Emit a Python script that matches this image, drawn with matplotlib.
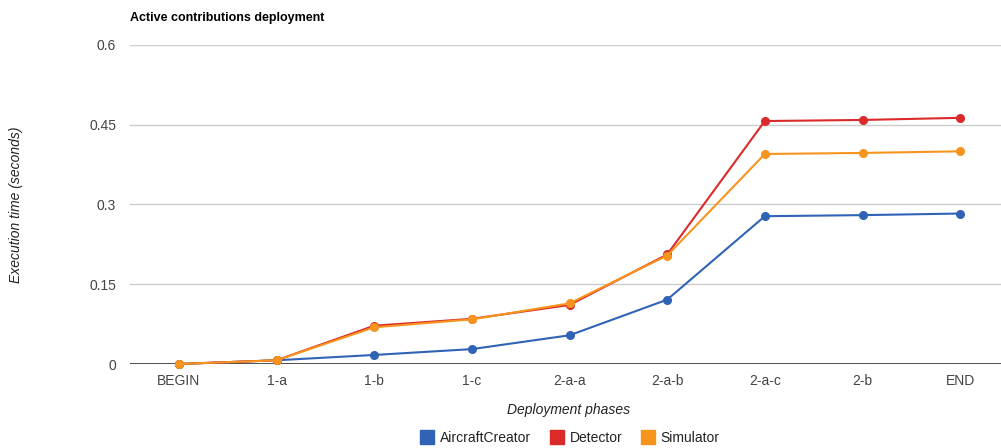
import matplotlib.pyplot as plt
from matplotlib.lines import Line2D
import numpy as np

plt.rcParams['font.family'] = ['Liberation Sans', 'DejaVu Sans']

# data
phases = ['BEGIN', '1-a', '1-b', '1-c', '2-a-a', '2-a-b', '2-a-c', '2-b', 'END']
aircraft = [0.0, 0.007, 0.017, 0.028, 0.054, 0.121, 0.278, 0.280, 0.283]
detector = [0.0, 0.007, 0.072, 0.085, 0.111, 0.206, 0.457, 0.459, 0.463]
simulator = [0.0, 0.007, 0.069, 0.084, 0.114, 0.204, 0.395, 0.397, 0.400]
yticks = [0, 0.15, 0.3, 0.45, 0.6]
ytick_labels = ['0', '0.15', '0.3', '0.45', '0.6']

series = [('AircraftCreator', aircraft, '#3063b6'),
          ('Detector', detector, '#db2a2a'),
          ('Simulator', simulator, '#f7941e')]

W, H = 1001, 448
fig = plt.figure(figsize=(W / 100, H / 100), dpi=100)
ax = fig.add_axes([130 / W, 84 / H, 879 / W, 319 / H])

x = np.arange(len(phases))
for name, vals, col in series:
    ax.plot(x, vals, color=col, lw=1.5, marker='o', ms=5.5, mec=col, label=name,
            solid_joinstyle='round', clip_on=False, zorder=3)

ax.set_xlim(-0.5, len(phases) - 0.5)
ax.set_ylim(0, 0.6)
ax.set_yticks(yticks)
ax.set_yticklabels(ytick_labels)
ax.set_xticks(x)
ax.set_xticklabels(phases)
ax.tick_params(length=0, labelsize=10, colors='#444444')
ax.tick_params(axis='y', pad=10)
ax.tick_params(axis='x', pad=7.5)
ax.grid(axis='y', color='#cccccc', lw=1)
ax.set_axisbelow(True)
for s in ax.spines.values():
    s.set_visible(False)
ax.axhline(0, color='#333333', lw=1.2, zorder=2)

fig.text(130 / W, 1 - 18 / H, 'Active contributions deployment', ha='left',
         va='center', fontsize=9.0, fontweight='bold', color='#000000')
fig.text(569 / W, 1 - 410 / H, 'Deployment phases', ha='center', va='center',
         fontsize=10, style='italic', color='#222222')
fig.text(16 / W, 1 - 205 / H, 'Execution time (seconds)', ha='center', va='center',
         rotation=90, fontsize=10, style='italic', color='#222222')

handles = [Line2D([], [], ls='none', marker='s', ms=9.4, color=c, mec=c)
           for _, _, c in series]
fig.legend(handles, [n for n, _, _ in series], loc='center', ncol=3,
           bbox_to_anchor=(570 / W, 1 - 438 / H), frameon=False, fontsize=10,
           handletextpad=0.45, columnspacing=1.3, handlelength=1.0,
           labelcolor='#222222')

fig.savefig('out.png', dpi=100)
